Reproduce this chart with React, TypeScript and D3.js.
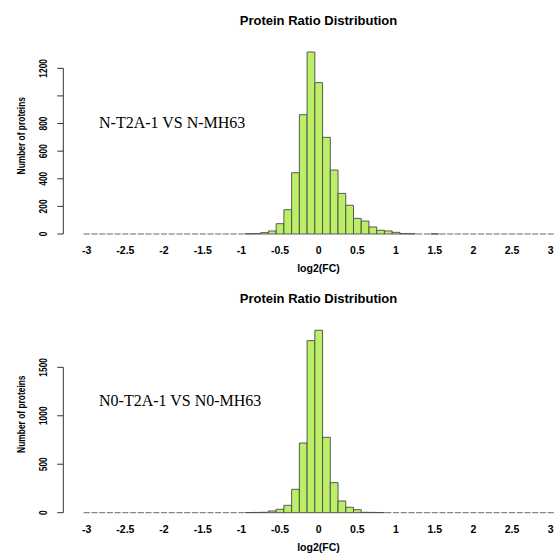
import React from 'react'
import * as d3 from 'd3'

// histogram bins: centres from -3 to 3, width 0.1
const binWidth = 0.1
const binMids = d3.range(-30, 31).map(i => i / 10)
const xTicks = [-3, -2.5, -2, -1.5, -1, -0.5, 0, 0.5, 1, 1.5, 2, 2.5, 3]

// non-empty bins
const topBins = [-0.9, -0.8, -0.7, -0.6, -0.5, -0.4, -0.3, -0.2, -0.1, 0, 0.1, 0.2, 0.3, 0.4, 0.5, 0.6, 0.7, 0.8, 0.9, 1.0, 1.1, 1.2, 1.5]
const topCounts = [2, 3, 10, 22, 75, 176, 444, 864, 1318, 1096, 700, 463, 294, 208, 113, 94, 51, 27, 22, 12, 3, 2, 1]
const topTicks = [0, 200, 400, 600, 800, 1000, 1200]
const topTickLabels = ['0', '200', '400', '600', '800', '', '1200'] // R drops the crowded 1000

const bottomBins = [-0.9, -0.8, -0.7, -0.6, -0.5, -0.4, -0.3, -0.2, -0.1, 0, 0.1, 0.2, 0.3, 0.4, 0.5, 0.6, 0.7, 0.8]
const bottomCounts = [2, 3, 4, 18, 35, 76, 241, 719, 1775, 1882, 778, 310, 121, 56, 31, 4, 3, 2]
const bottomTicks = [0, 500, 1000, 1500]
const bottomTickLabels = ['0', '500', '1000', '1500']

const titleText = 'Protein Ratio Distribution'
const xLabel = 'log2(FC)'
const yLabel = 'Number of proteins'

const sans = '"Liberation Sans", Arial, sans-serif'
const serif = '"Liberation Serif", "Times New Roman", serif'
const fill = '#BCEE68'

const xScale = d3.scaleLinear().domain([-3, 3]).range([86.7, 550.7])

const Panel = ({ bins, counts, ticks, tickLabels, yScale, top, note, noteY }) => {
  const lookup = new Map(bins.map((b, i) => [b.toFixed(1), counts[i]]))
  const y0 = yScale(0)
  return (
    <g>
      <text x={318.5} y={top + 25} textAnchor='middle' fontFamily={sans} fontWeight='bold' fontSize={13}>
        {titleText}
      </text>

      {binMids.map(m => {
        const c = lookup.get(m.toFixed(1)) || 0
        const x0 = xScale(m - binWidth / 2)
        const x1 = xScale(m + binWidth / 2)
        if (c === 0) {
          return <line key={m} x1={x0 + 0.8} x2={x1 - 0.8} y1={y0} y2={y0} stroke='#6a6a6a' strokeWidth={1} />
        }
        const y1 = yScale(c)
        const d = `M${x0},${y0}V${y1}H${x1}V${y0}Z`
        return <path key={m} d={d} fill={fill} stroke='#4a4a4a' strokeWidth={0.9} />
      })}

      {/* y axis */}
      <line x1={63.3} x2={63.3} y1={yScale(ticks[0])} y2={yScale(ticks[ticks.length - 1])} stroke='#333' />
      {ticks.map((t, i) => (
        <g key={t}>
          <line x1={57.3} x2={63.3} y1={yScale(t)} y2={yScale(t)} stroke='#333' />
          <text
            transform={`translate(43.5,${yScale(t)}) rotate(-90) scale(0.8,1)`}
            textAnchor='middle'
            dy='0.36em'
            fontFamily={sans}
            fontWeight='bold'
            fontSize={10.5}
          >
            {tickLabels[i]}
          </text>
        </g>
      ))}
      <text
        transform={`translate(21,${(yScale(0) + yScale(d3.max(counts) * 1.08)) / 2}) rotate(-90) scale(0.8,1)`}
        textAnchor='middle'
        dy='0.36em'
        fontFamily={sans}
        fontWeight='bold'
        fontSize={10.5}
      >
        {yLabel}
      </text>

      {/* x tick labels, no axis line */}
      {xTicks.map(t => (
        <text key={t} x={xScale(t)} y={y0 + 20} textAnchor='middle' fontFamily={sans} fontWeight='bold' fontSize={10.5}>
          {t}
        </text>
      ))}
      <text x={318.5} y={y0 + 38} textAnchor='middle' fontFamily={sans} fontWeight='bold' fontSize={10.5}>
        {xLabel}
      </text>

      <text x={99} y={noteY} fontFamily={serif} fontSize={16}>
        {note}
      </text>
    </g>
  )
}

const App = () => {
  const yTop = d3.scaleLinear().domain([0, 1200]).range([234, 68.3])
  const yBottom = d3.scaleLinear().domain([0, 1500]).range([512.7, 367.3])
  return (
    <svg width={554} height={553} style={{ position: 'absolute', left: 0, top: 0, background: '#fff' }}>
      <rect width={554} height={553} fill='#fff' />
      <Panel bins={topBins} counts={topCounts} ticks={topTicks} tickLabels={topTickLabels} yScale={yTop} top={0} note='N-T2A-1 VS N-MH63' noteY={127.5} />
      <Panel bins={bottomBins} counts={bottomCounts} ticks={bottomTicks} tickLabels={bottomTickLabels} yScale={yBottom} top={278} note='N0-T2A-1 VS N0-MH63' noteY={406} />
    </svg>
  )
}

export default App
